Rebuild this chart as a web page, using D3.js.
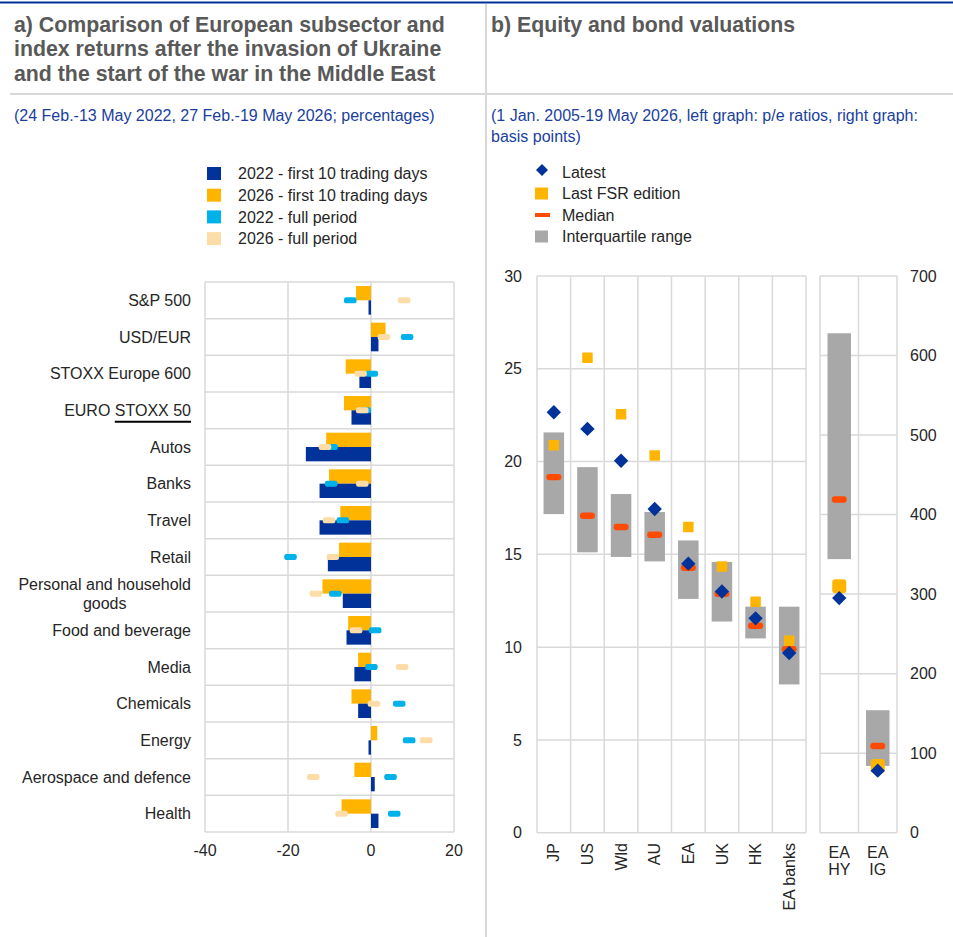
<!DOCTYPE html>
<html>
<head>
<meta charset="utf-8">
<script src="https://cdn.jsdelivr.net/npm/d3@7"></script>
<style>
  html, body { margin: 0; padding: 0; background: #fff; }
  svg { display: block; font-family: Arial, "Liberation Sans", sans-serif; }
</style>
</head>
<body>
<svg id="chart" width="953" height="937"></svg>
<script>
// ---- Panel a: subsector and index returns (percentages) ----
const sectors = ["S&P 500", "USD/EUR", "STOXX Europe 600", "EURO STOXX 50", "Autos", "Banks",
  "Travel", "Retail", "Personal and household goods", "Food and beverage", "Media",
  "Chemicals", "Energy", "Aerospace and defence", "Health"];
const first10days2022 = [-0.6, 1.8, -2.8, -4.7, -15.7, -12.4, -12.4, -10.4, -6.8, -5.9, -4.0, -3.1, -0.6, 0.9, 1.8];
const first10days2026 = [-3.6, 3.5, -6.1, -6.5, -10.8, -10.1, -7.4, -7.7, -11.7, -5.5, -3.1, -4.7, 1.5, -4.0, -7.1];
const fullPeriod2022 = [-5.0, 8.7, 0.2, -1.5, -9.5, -9.6, -6.8, -19.4, -8.6, 1.0, 0.1, 6.8, 9.2, 4.7, 5.6];
const fullPeriod2026 = [8.0, 3.1, -2.5, -2.1, -11.1, -2.1, -10.1, -9.2, -13.3, -3.6, 7.5, 0.7, 13.3, -13.9, -7.1];
const returnTicks = [-40, -20, 0, 20];
const legendA = ["2022 - first 10 trading days", "2026 - first 10 trading days", "2022 - full period", "2026 - full period"];

// ---- Panel b: equity p/e ratios and bond spreads (basis points) ----
const equityMarkets = ["JP", "US", "Wld", "AU", "EA", "UK", "HK", "EA banks"];
const latestPE = [22.66, 21.76, 20.04, 17.44, 14.5, 13.0, 11.55, 9.68];
const lastFsrPE = [20.88, 25.59, 22.55, 20.33, 16.47, 14.35, 12.45, 10.34];
const medianPE = [19.16, 17.08, 16.47, 16.06, 14.28, 12.88, 11.15, 9.89];
const iqrLowPE = [17.17, 15.11, 14.86, 14.62, 12.6, 11.38, 10.47, 7.99];
const iqrHighPE = [21.57, 19.7, 18.25, 17.28, 15.75, 14.59, 12.18, 12.18];
const peTicks = [0, 5, 10, 15, 20, 25, 30];

const bondSegments = ["EA HY", "EA IG"];
const latestBp = [295, 78];
const lastFsrBp = [310, 84];
const medianBp = [419, 109];
const iqrLowBp = [344, 84];
const iqrHighBp = [628, 154];
const bpTicks = [0, 100, 200, 300, 400, 500, 600, 700];
const legendB = ["Latest", "Last FSR edition", "Median", "Interquartile range"];

const C = {
  navy: "#003299", yellow: "#FFB400", cyan: "#00B1EA", peach: "#FDDDA7",
  median: "#FF4B00", iqr: "#A8A8A8", grid: "#D9D9D9", title: "#595959",
  sub: "#1A3F9E", text: "#262626"
};
const FS = 16;

const svg = d3.select("#chart");

// ---- frame: top rule, separators, headings ----
svg.append("line").attr("x1", 0).attr("x2", 953).attr("y1", 2.5).attr("y2", 2.5)
  .attr("stroke", C.navy).attr("stroke-width", 2);
svg.append("line").attr("x1", 486).attr("x2", 486).attr("y1", 4).attr("y2", 937)
  .attr("stroke", C.grid).attr("stroke-width", 2);
svg.append("line").attr("x1", 10).attr("x2", 953).attr("y1", 94).attr("y2", 94)
  .attr("stroke", C.grid).attr("stroke-width", 2);

const titleA = ["a) Comparison of European subsector and",
  "index returns after the invasion of Ukraine",
  "and the start of the war in the Middle East"];
svg.append("g").selectAll("text").data(titleA).join("text")
  .attr("x", 14).attr("y", (d, i) => 31.5 + i * 24.5)
  .attr("font-size", 21.3).attr("font-weight", "bold").attr("fill", C.title).text(d => d);
svg.append("text").attr("x", 491).attr("y", 31.5)
  .attr("font-size", 21.3).attr("font-weight", "bold").attr("fill", C.title)
  .text("b) Equity and bond valuations");

svg.append("text").attr("x", 14).attr("y", 120.5).attr("font-size", FS).attr("fill", C.sub)
  .text("(24 Feb.-13 May 2022, 27 Feb.-19 May 2026; percentages)");
svg.append("g").selectAll("text")
  .data(["(1 Jan. 2005-19 May 2026, left graph: p/e ratios, right graph:", "basis points)"])
  .join("text").attr("x", 491).attr("y", (d, i) => 120.5 + i * 21.5)
  .attr("font-size", FS).attr("fill", C.sub).text(d => d);

// ================= Panel a =================
const xA = d3.scaleLinear().domain([-40, 20]).range([205, 454]);
const yA = d3.scaleBand().domain(sectors).range([282, 832]).paddingInner(0).paddingOuter(0);
const inner = d3.scaleBand().domain(["2026", "2022"]).range([0, yA.bandwidth()]).paddingOuter(0.28);

const gA = svg.append("g");
// horizontal separators between categories and frame
gA.selectAll("line.hsep").data(d3.range(sectors.length + 1)).join("line")
  .attr("x1", xA(-40)).attr("x2", xA(20))
  .attr("y1", i => 282 + i * yA.step()).attr("y2", i => 282 + i * yA.step())
  .attr("stroke", C.grid).attr("stroke-width", 1.5);
gA.selectAll("line.vgrid").data(returnTicks).join("line")
  .attr("x1", d => xA(d)).attr("x2", d => xA(d)).attr("y1", 282).attr("y2", 832)
  .attr("stroke", C.grid).attr("stroke-width", 1.5);

const rowsA = sectors.map((s, i) => ({
  s, b22: first10days2022[i], b26: first10days2026[i], f22: fullPeriod2022[i], f26: fullPeriod2026[i]
}));

gA.selectAll("rect.b26").data(rowsA).join("rect")
  .attr("x", d => Math.min(xA(0), xA(d.b26))).attr("width", d => Math.abs(xA(d.b26) - xA(0)))
  .attr("y", d => yA(d.s) + inner("2026")).attr("height", inner.bandwidth())
  .attr("fill", C.yellow);
gA.selectAll("rect.b22").data(rowsA).join("rect")
  .attr("x", d => Math.min(xA(0), xA(d.b22))).attr("width", d => Math.abs(xA(d.b22) - xA(0)))
  .attr("y", d => yA(d.s) + inner("2022")).attr("height", inner.bandwidth())
  .attr("fill", C.navy);

// full-period returns as short dashes on the bar boundary
const dashW = 12.5, dashH = 6;
gA.selectAll("rect.f22").data(rowsA).join("rect")
  .attr("x", d => xA(d.f22) - dashW / 2).attr("width", dashW)
  .attr("y", d => yA(d.s) + inner("2022") - dashH / 2).attr("height", dashH)
  .attr("rx", 2.2).attr("fill", C.cyan);
gA.selectAll("rect.f26").data(rowsA).join("rect")
  .attr("x", d => xA(d.f26) - dashW / 2).attr("width", dashW)
  .attr("y", d => yA(d.s) + inner("2022") - dashH / 2).attr("height", dashH)
  .attr("rx", 2.2).attr("fill", C.peach);

// x axis labels
gA.selectAll("text.xt").data(returnTicks).join("text")
  .attr("x", d => xA(d)).attr("y", 856).attr("text-anchor", "middle")
  .attr("font-size", FS).attr("fill", C.text).text(d => d);

// category labels (wrapped where too wide, block right-aligned)
const labelRight = 191, maxW = 178;
sectors.forEach(s => {
  const cy = yA(s) + yA.bandwidth() / 2;
  const probe = gA.append("text").attr("font-size", FS).text(s);
  const w = probe.node().getComputedTextLength();
  if (w <= maxW) {
    probe.attr("x", labelRight).attr("y", cy).attr("dy", "0.35em")
      .attr("text-anchor", "end").attr("fill", C.text);
    if (s === "EURO STOXX 50") {
      // underline beneath the index name
      const pre = probe.node().getSubStringLength(0, 5);
      const x0 = labelRight - w + pre;
      gA.append("line").attr("x1", x0).attr("x2", labelRight)
        .attr("y1", cy + 11.5).attr("y2", cy + 11.5)
        .attr("stroke", "#000").attr("stroke-width", 2);
    }
  } else {
    probe.remove();
    const words = s.split(" ");
    const lines = [];
    let cur = "";
    const t = gA.append("text").attr("font-size", FS);
    words.forEach(wd => {
      const test = cur ? cur + " " + wd : wd;
      t.text(test);
      if (t.node().getComputedTextLength() > maxW && cur) { lines.push(cur); cur = wd; }
      else cur = test;
    });
    lines.push(cur);
    const blockW = d3.max(lines, l => { t.text(l); return t.node().getComputedTextLength(); });
    t.remove();
    const lh = 19;
    gA.append("text").attr("font-size", FS).attr("fill", C.text).attr("text-anchor", "middle")
      .selectAll("tspan").data(lines).join("tspan")
      .attr("x", labelRight - blockW / 2)
      .attr("y", (d, i) => cy + (i - (lines.length - 1) / 2) * lh)
      .attr("dy", "0.35em").text(d => d);
  }
});

// legend a
const legA = svg.append("g");
const legColorsA = [C.navy, C.yellow, C.cyan, C.peach];
legendA.forEach((name, i) => {
  const cy = 173.5 + i * 21.7;
  legA.append("rect").attr("x", 207).attr("y", cy - 6.5).attr("width", 14).attr("height", 13)
    .attr("fill", legColorsA[i]);
  legA.append("text").attr("x", 238).attr("y", cy).attr("dy", "0.35em")
    .attr("font-size", FS).attr("fill", C.text).text(name);
});

// ================= Panel b =================
const yPE = d3.scaleLinear().domain([0, 30]).range([832.7, 276]);
const xPE = d3.scaleBand().domain(equityMarkets).range([537, 806]);
const yBp = d3.scaleLinear().domain([0, 700]).range([832.7, 276]);
const xBp = d3.scaleBand().domain(bondSegments).range([820, 897]);

const gB = svg.append("g");
function gridPanel(xs, ys, ticks) {
  const [x0, x1] = xs.range();
  gB.append("g").selectAll("line").data(ticks).join("line")
    .attr("x1", x0).attr("x2", x1).attr("y1", d => ys(d)).attr("y2", d => ys(d))
    .attr("stroke", C.grid).attr("stroke-width", 1.5);
  gB.append("g").selectAll("line").data(d3.range(xs.domain().length + 1)).join("line")
    .attr("x1", i => x0 + i * xs.step()).attr("x2", i => x0 + i * xs.step())
    .attr("y1", ys.range()[1]).attr("y2", ys.range()[0])
    .attr("stroke", C.grid).attr("stroke-width", 1.5);
}
gridPanel(xPE, yPE, peTicks);
gridPanel(xBp, yBp, bpTicks);

const diamond = s => `M0,${-s}L${s},0L0,${s}L${-s},0Z`;

function drawRanges(xs, ys, cats, lo, hi, med, fsr, latest, sq) {
  const rows = cats.map((c, i) => ({ c, lo: lo[i], hi: hi[i], med: med[i], fsr: fsr[i], latest: latest[i] }));
  const bw = xs.bandwidth() * 0.61;
  const cx = d => xs(d.c) + xs.bandwidth() / 2;
  const g = gB.append("g");
  g.selectAll("rect.iqr").data(rows).join("rect")
    .attr("x", d => cx(d) - bw / 2).attr("width", bw)
    .attr("y", d => ys(d.hi)).attr("height", d => ys(d.lo) - ys(d.hi))
    .attr("fill", C.iqr);
  g.selectAll("rect.med").data(rows).join("rect")
    .attr("x", d => cx(d) - 7.5).attr("width", 15)
    .attr("y", d => ys(d.med) - 3.2).attr("height", 6.4).attr("rx", 3)
    .attr("fill", C.median);
  g.selectAll("rect.fsr").data(rows).join("rect")
    .attr("x", d => cx(d) - sq / 2).attr("width", sq)
    .attr("y", d => ys(d.fsr) - sq / 2).attr("height", sq).attr("rx", sq > 12 ? 3 : 0.5)
    .attr("fill", C.yellow);
  g.selectAll("path.latest").data(rows).join("path")
    .attr("transform", d => `translate(${cx(d)},${ys(d.latest)})`)
    .attr("d", diamond(7.2)).attr("fill", C.navy);
}
drawRanges(xPE, yPE, equityMarkets, iqrLowPE, iqrHighPE, medianPE, lastFsrPE, latestPE, 10.5);
drawRanges(xBp, yBp, bondSegments, iqrLowBp, iqrHighBp, medianBp, lastFsrBp, latestBp, 14);

// axes labels panel b
gB.append("g").selectAll("text").data(peTicks).join("text")
  .attr("x", 522).attr("y", d => yPE(d)).attr("dy", "0.35em").attr("text-anchor", "end")
  .attr("font-size", FS).attr("fill", C.text).text(d => d);
gB.append("g").selectAll("text").data(bpTicks).join("text")
  .attr("x", 910).attr("y", d => yBp(d)).attr("dy", "0.35em").attr("text-anchor", "start")
  .attr("font-size", FS).attr("fill", C.text).text(d => d);

gB.append("g").selectAll("text").data(equityMarkets).join("text")
  .attr("transform", d => `translate(${xPE(d) + xPE.bandwidth() / 2},843) rotate(-90)`)
  .attr("dy", "0.35em").attr("text-anchor", "end")
  .attr("font-size", FS).attr("fill", C.text).text(d => d);
bondSegments.forEach(b => {
  const parts = b.split(" ");
  gB.append("text").attr("font-size", FS).attr("fill", C.text).attr("text-anchor", "middle")
    .selectAll("tspan").data(parts).join("tspan")
    .attr("x", xBp(b) + xBp.bandwidth() / 2).attr("y", (d, i) => 858 + i * 16.5).text(d => d);
});

// legend b
const legB = svg.append("g");
legendB.forEach((name, i) => {
  const cy = 172 + i * 21.5;
  if (i === 0) legB.append("path").attr("transform", `translate(542,${cy - 2})`).attr("d", diamond(6)).attr("fill", C.navy);
  if (i === 1) legB.append("rect").attr("x", 535).attr("y", cy - 6).attr("width", 13).attr("height", 12).attr("fill", C.yellow);
  if (i === 2) legB.append("rect").attr("x", 535).attr("y", cy - 2).attr("width", 15).attr("height", 4).attr("fill", C.median);
  if (i === 3) legB.append("rect").attr("x", 535).attr("y", cy - 6).attr("width", 13).attr("height", 12).attr("fill", C.iqr);
  legB.append("text").attr("x", 562).attr("y", cy).attr("dy", "0.35em")
    .attr("font-size", FS).attr("fill", C.text).text(name);
});
</script>
</body>
</html>
